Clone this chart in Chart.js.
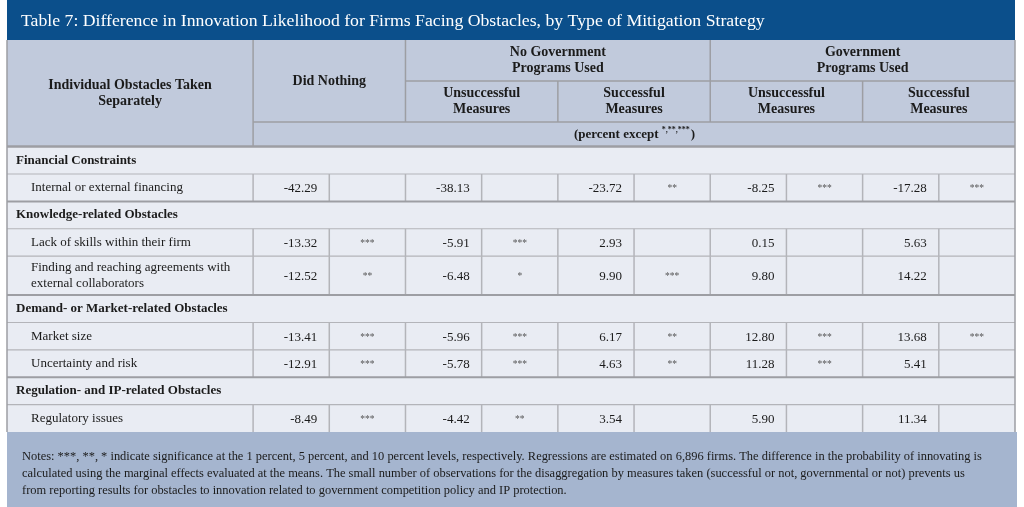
<!DOCTYPE html>
<html>
<head>
<meta charset="utf-8">
<title>Table 7</title>
<script src="https://cdn.jsdelivr.net/npm/chart.js@4.4.1/dist/chart.umd.min.js"></script>
<style>
  html, body { margin: 0; padding: 0; background: #fff; }
  #wrap { position: relative; width: 1024px; height: 507px; }
</style>
</head>
<body>
<div id="wrap"><canvas id="tableChart"></canvas></div>
<script>
// ---- Table content ----
const titleText = "Table 7: Difference in Innovation Likelihood for Firms Facing Obstacles, by Type of Mitigation Strategy";
const stubHeader = ["Individual Obstacles Taken", "Separately"];
const strategyGroups = [["No Government", "Programs Used"], ["Government", "Programs Used"]];
const strategies = [["Did Nothing"], ["Unsuccessful", "Measures"], ["Successful", "Measures"], ["Unsuccessful", "Measures"], ["Successful", "Measures"]];
const strategyGroupOf = [-1, 0, 0, 1, 1];
const unitLabel = ["(percent except ", "*,**,***", ")"];

const obstacleGroups = ["Financial Constraints", "Knowledge-related Obstacles", "Demand- or Market-related Obstacles", "Regulation- and IP-related Obstacles"];
const obstacles = ["Internal or external financing", "Lack of skills within their firm", "Finding and reaching agreements with external collaborators", "Market size", "Uncertainty and risk", "Regulatory issues"];
const obstacleGroupOf = [0, 1, 1, 2, 2, 3];

// values (percent) and significance stars, one pair per strategy column
const didNothing = [-42.29, -13.32, -12.52, -13.41, -12.91, -8.49];
const didNothingSig = ["", "***", "**", "***", "***", "***"];
const noGovUnsuccessful = [-38.13, -5.91, -6.48, -5.96, -5.78, -4.42];
const noGovUnsuccessfulSig = ["", "***", "*", "***", "***", "**"];
const noGovSuccessful = [-23.72, 2.93, 9.90, 6.17, 4.63, 3.54];
const noGovSuccessfulSig = ["**", "", "***", "**", "**", ""];
const govUnsuccessful = [-8.25, 0.15, 9.80, 12.80, 11.28, 5.90];
const govUnsuccessfulSig = ["***", "", "", "***", "***", ""];
const govSuccessful = [-17.28, 5.63, 14.22, 13.68, 5.41, 11.34];
const govSuccessfulSig = ["***", "", "", "***", "", ""];

const notes = [
  "Notes: ***, **, * indicate significance at the 1 percent, 5 percent, and 10 percent levels, respectively. Regressions are estimated on 6,896 firms. The difference in the probability of innovating is",
  "calculated using the marginal effects evaluated at the means. The small number of observations for the disaggregation by measures taken (successful or not, governmental or not) prevents us",
  "from reporting results for obstacles to innovation related to government competition policy and IP protection."
];

const seriesValues = [didNothing, noGovUnsuccessful, noGovSuccessful, govUnsuccessful, govSuccessful];
const seriesSig = [didNothingSig, noGovUnsuccessfulSig, noGovSuccessfulSig, govUnsuccessfulSig, govSuccessfulSig];

// ---- Layout / style ----
const serif = '"Liberation Serif", "DejaVu Serif", serif';
const labelColumnUnits = 3.23;          // stub column width, in data-column units
const headerBands = [41, 41, 24.7];     // header band heights
const rowHeight = 27.4;
const lineHeight = 16.5;
const stubWrapWidth = 212;
const colors = {
  title: "#0b4f8b", header: "#c1cadc", body: "#e9ecf3", notes: "#a5b5cf",
  text: "#1b1b1b", stars: "#555555", grid: "#b3b4b9", gridDark: "#9d9ea3"
};

// wrap stub labels to the stub column
const measureCtx = document.createElement("canvas").getContext("2d");
function wrapText(text, font, maxWidth) {
  measureCtx.font = font;
  const words = text.split(" ");
  const lines = [];
  let line = "";
  words.forEach(w => {
    const test = line ? line + " " + w : w;
    if (line && measureCtx.measureText(test).width > maxWidth) {
      lines.push(line);
      line = w;
    } else {
      line = test;
    }
  });
  lines.push(line);
  return lines;
}

// table rows built from the data arrays
const headerTotal = headerBands.reduce((s, h) => s + h, 0);
const tableRows = [];
obstacles.forEach((name, i) => {
  const g = obstacleGroupOf[i];
  if (i === 0 || obstacleGroupOf[i - 1] !== g) {
    tableRows.push({ kind: "section", lines: [obstacleGroups[g]] });
  }
  const lines = wrapText(name, "13px " + serif, stubWrapWidth);
  tableRows.push({ kind: "item", lines, index: i });
});
let yCursor = headerTotal;
tableRows.forEach(r => {
  r.height = rowHeight + (r.lines.length - 1) * 11.6;
  r.top = yCursor;
  r.center = yCursor + r.height / 2;
  yCursor += r.height;
});
const totalUnits = yCursor;
const rowCenterOf = [];
tableRows.forEach(r => { if (r.kind === "item") rowCenterOf[r.index] = r.center; });

function drawLine(ctx, x1, y1, x2, y2, color, width) {
  ctx.beginPath();
  ctx.strokeStyle = color;
  ctx.lineWidth = width;
  ctx.moveTo(x1, y1);
  ctx.lineTo(x2, y2);
  ctx.stroke();
}

function drawLines(ctx, lines, cx, cy, font, align) {
  ctx.font = font;
  ctx.textAlign = align;
  ctx.textBaseline = "middle";
  const start = cy - (lines.length - 1) * lineHeight / 2;
  lines.forEach((l, i) => ctx.fillText(l, cx, start + i * lineHeight));
}

function fitSize(ctx, text, weight, target) {
  ctx.font = weight + " 100px " + serif;
  return 100 * target / ctx.measureText(text).width;
}

const tablePlugin = {
  id: "tablePlugin",
  beforeDraw(chart) {
    const { ctx, chartArea: a, scales: { y } } = chart;
    const hb = y.getPixelForValue(headerTotal);
    ctx.save();
    ctx.fillStyle = "#ffffff";
    ctx.fillRect(0, 0, chart.width, chart.height);
    ctx.fillStyle = colors.title;
    ctx.fillRect(a.left, 0, a.right - a.left, a.top);
    ctx.fillStyle = colors.header;
    ctx.fillRect(a.left, a.top, a.right - a.left, hb - a.top);
    ctx.fillStyle = colors.body;
    ctx.fillRect(a.left, hb, a.right - a.left, a.bottom - hb);
    ctx.fillStyle = colors.notes;
    ctx.fillRect(a.left, a.bottom, a.right - a.left + 2, chart.height - a.bottom);
    ctx.restore();
  },
  afterDatasetsDraw(chart) {
    const { ctx, chartArea: a, scales: { x, y } } = chart;
    const px = v => x.getPixelForValue(v);
    const py = v => y.getPixelForValue(v);
    const b1 = headerBands[0], b2 = headerBands[0] + headerBands[1];
    ctx.save();

    // title
    ctx.fillStyle = "#ffffff";
    const tSize = fitSize(ctx, titleText, "normal", 744);
    ctx.font = tSize.toFixed(2) + "px " + serif;
    ctx.textAlign = "left";
    ctx.textBaseline = "middle";
    ctx.fillText(titleText, a.left + 14, a.top / 2 + 1);

    // header grid
    drawLine(ctx, px(0), py(0), px(0), py(headerTotal), colors.gridDark, 1.5);
    [2, 6].forEach(c => drawLine(ctx, px(c), py(0), px(c), py(b2), colors.gridDark, 1.5));
    [4, 8].forEach(c => drawLine(ctx, px(c), py(b1), px(c), py(b2), colors.gridDark, 1.5));
    drawLine(ctx, px(2), py(b1), px(10), py(b1), colors.gridDark, 1.5);
    drawLine(ctx, px(0), py(b2), px(10), py(b2), colors.gridDark, 1.5);

    // header text
    ctx.fillStyle = colors.text;
    const hFont = "bold 14px " + serif;
    drawLines(ctx, stubHeader, px(-labelColumnUnits / 2), py(headerTotal / 2), hFont, "center");
    strategies.forEach((s, k) => {
      const cx = px(2 * k + 1);
      const cy = strategyGroupOf[k] < 0 ? py(b2 / 2) : py((b1 + b2) / 2);
      drawLines(ctx, s, cx, cy, hFont, "center");
    });
    strategyGroups.forEach((g, j) => {
      drawLines(ctx, g, px(4 * j + 4), py(b1 / 2), hFont, "center");
    });
    // unit line with raised stars
    ctx.font = "bold 13px " + serif;
    const w0 = ctx.measureText(unitLabel[0]).width;
    const w2 = ctx.measureText(unitLabel[2]).width;
    ctx.font = "bold 8px " + serif;
    const w1 = ctx.measureText(unitLabel[1]).width;
    let ux = px(5) - (w0 + w1 + w2) / 2;
    const uy = py((b2 + headerTotal) / 2);
    ctx.textAlign = "left";
    ctx.textBaseline = "middle";
    ctx.font = "bold 13px " + serif;
    ctx.fillText(unitLabel[0], ux, uy);
    ctx.font = "bold 8px " + serif;
    ctx.fillText(unitLabel[1], ux + w0, uy - 4);
    ctx.font = "bold 13px " + serif;
    ctx.fillText(unitLabel[2], ux + w0 + w1 + 1, uy);

    // body rows
    tableRows.forEach(r => {
      const top = py(r.top), bottom = py(r.top + r.height);
      if (r.kind === "section") {
        drawLine(ctx, a.left, top, a.right, top, colors.gridDark, 2);
        ctx.fillStyle = colors.text;
        drawLines(ctx, r.lines, a.left + 9, py(r.center), "bold 13px " + serif, "left");
      } else {
        drawLine(ctx, a.left, top, a.right, top, colors.grid, 1.2);
        for (let c = 0; c < 10; c++) {
          drawLine(ctx, px(c), top, px(c), bottom, colors.grid, 1.5);
        }
        ctx.fillStyle = colors.text;
        drawLines(ctx, r.lines, a.left + 24, py(r.center), "13px " + serif, "left");
      }
    });
    drawLine(ctx, a.left, py(headerTotal), a.right, py(headerTotal), colors.gridDark, 2);

    // values and stars, placed at the dataset points
    chart.data.datasets.forEach((ds, k) => {
      const meta = chart.getDatasetMeta(k);
      meta.data.forEach((pt, i) => {
        const d = ds.data[i];
        ctx.fillStyle = colors.text;
        ctx.font = "13px " + serif;
        ctx.textAlign = "right";
        ctx.textBaseline = "middle";
        ctx.fillText(d.v.toFixed(2), pt.x - 12, pt.y + 1);
        if (d.sig) {
          ctx.fillStyle = colors.stars;
          ctx.font = "9.5px " + serif;
          ctx.textAlign = "center";
          ctx.fillText(d.sig, px(2 * k + 1.5), pt.y + 1);
        }
      });
    });

    // outer borders
    drawLine(ctx, a.left, a.top, a.left, a.bottom, colors.gridDark, 1.5);
    drawLine(ctx, a.right, a.top, a.right, a.bottom, colors.gridDark, 1.5);

    // notes
    ctx.fillStyle = colors.text;
    const nSize = fitSize(ctx, notes[0], "normal", 961);
    ctx.font = nSize.toFixed(2) + "px " + serif;
    ctx.textAlign = "left";
    ctx.textBaseline = "middle";
    notes.forEach((n, i) => ctx.fillText(n, a.left + 15, a.bottom + 25 + i * 17));

    ctx.restore();
  }
};

const ctx = document.getElementById("tableChart").getContext("2d");
const tableChart = new Chart(ctx, {
  type: "scatter",
  data: {
    datasets: seriesValues.map((vals, k) => ({
      label: strategies[k].join(" "),
      data: vals.map((v, i) => ({ x: 2 * k + 1, y: rowCenterOf[i], v: v, sig: seriesSig[k][i] })),
      pointRadius: 0,
      pointHoverRadius: 0
    }))
  },
  options: {
    responsive: true,
    maintainAspectRatio: false,
    animation: false,
    events: [],
    layout: { padding: { left: 7, right: 9, top: 40, bottom: 75 } },
    scales: {
      x: { type: "linear", min: -labelColumnUnits, max: 10, display: false },
      y: { type: "linear", min: 0, max: totalUnits, reverse: true, display: false }
    },
    plugins: {
      legend: { display: false },
      tooltip: { enabled: false }
    }
  },
  plugins: [tablePlugin]
});
</script>
</body>
</html>
